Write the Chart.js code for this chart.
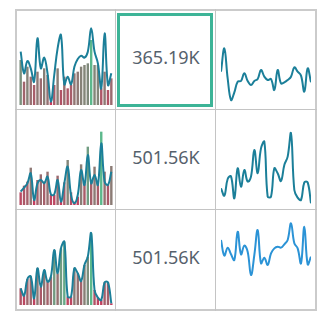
<!DOCTYPE html>
<html>
<head>
<meta charset="utf-8">
<script src="https://cdn.jsdelivr.net/npm/chart.js@4/dist/chart.umd.min.js"></script>
<style>
  html, body { margin: 0; padding: 0; background: #fff; }
  body { width: 328px; height: 324px; position: relative; overflow: hidden; font-family: 'Noto Sans', 'Open Sans', sans-serif; }
  .frame { position: absolute; left: 15px; top: 9px; width: 302px; height: 302px; border: 2px solid #cbcbcb; box-sizing: border-box; }
  .vline { position: absolute; top: 9px; width: 1px; height: 302px; background: #c4c4c4; }
  .hline { position: absolute; left: 15px; height: 1px; width: 302px; background: #c4c4c4; }
  .kpi { position: absolute; left: 116px; width: 100px; height: 24px; line-height: 24px; text-align: center; font-size: 18px; color: #56616c; }
  .focus { position: absolute; left: 117px; top: 13px; width: 96px; height: 94px; border: 3px solid #3db497; box-sizing: border-box; }
  canvas { position: absolute; }
</style>
</head>
<body>
<div class="frame"></div>
<div class="vline" style="left:115px"></div>
<div class="vline" style="left:215px"></div>
<div class="hline" style="top:109px"></div>
<div class="hline" style="top:209px"></div>
<div class="focus"></div>
<div class="kpi" style="top:45px">365.19K</div>
<div class="kpi" style="top:145px">501.56K</div>
<div class="kpi" style="top:245px">501.56K</div>

<canvas id="c11" width="94" height="95" style="left:19px;top:10px"></canvas>
<canvas id="c21" width="94" height="95" style="left:19px;top:110px"></canvas>
<canvas id="c31" width="94" height="95" style="left:19px;top:210px"></canvas>
<canvas id="c13" width="90" height="95" style="left:221px;top:10px"></canvas>
<canvas id="c23" width="90" height="95" style="left:221px;top:110px"></canvas>
<canvas id="c33" width="90" height="95" style="left:221px;top:210px"></canvas>

<script>
// ── Data ──────────────────────────────────────────────────────
const days = Array.from({ length: 28 }, (_, i) => String(i + 1));

const aLine = [160, 95, 132, 110, 70, 200, 110, 142, 95, 10, 90, 170, 210, 62, 85, 62, 115, 138, 148, 142, 160, 230, 160, 125, 50, 215, 60, 95];
const aBars = [135, 70, 115, 85, 60, 100, 80, 110, 90, 10, 60, 110, 45, 85, 50, 60, 95, 100, 115, 120, 125, 195, 120, 120, 50, 100, 45, 80];

const bLine = [40, 52, 65, 95, 15, 65, 75, 65, 85, 32, 32, 75, 10, 65, 115, 30, 5, 30, 105, 60, 150, 65, 90, 60, 185, 70, 60, 100];
const bBars = [38, 58, 70, 112, 15, 75, 92, 70, 100, 30, 30, 88, 10, 68, 135, 38, 10, 25, 122, 65, 175, 70, 115, 65, 220, 100, 60, 117];

const cData = [50, 28, 78, 86, 20, 110, 55, 105, 70, 85, 165, 95, 170, 190, 25, 25, 110, 95, 72, 120, 145, 215, 45, 22, 15, 68, 68, 5];

const dLine = [100, 170, 80, 15, 38, 70, 72, 95, 72, 60, 72, 78, 105, 85, 75, 78, 45, 105, 65, 68, 75, 85, 113, 100, 88, 40, 110, 68];
const eLine = [195, 148, 172, 152, 135, 220, 152, 178, 160, 90, 150, 225, 125, 142, 120, 155, 170, 175, 172, 182, 195, 245, 185, 170, 125, 235, 122, 145];

const Y_MAX = 285;

// ── Colours ───────────────────────────────────────────────────
const TEAL = '#1b7f99';
const BLUE = '#2b93d6';
const RED = [200, 58, 92], GRAY = [140, 122, 117], GREEN = [92, 184, 140];

function mix(c1, c2, t) {
  const c = c1.map((v, k) => Math.round(v + (c2[k] - v) * t));
  return `rgb(${c[0]},${c[1]},${c[2]})`;
}

/** Red → gray → green by value, like the reference bars. */
function barColors(vals) {
  const lo = Math.min(...vals), hi = Math.max(...vals);
  return vals.map(v => {
    const t = (v - lo) / (hi - lo);
    return t < 0.5 ? mix(RED, GRAY, t * 2) : mix(GRAY, GREEN, (t - 0.5) * 2);
  });
}

const baseOpts = () => ({
  animation: false,
  responsive: false,
  devicePixelRatio: 1,
  layout: { padding: 0 },
  plugins: { legend: { display: false }, tooltip: { enabled: false } },
  scales: {
    x: { display: false },
    y: { display: false, min: 0, max: Y_MAX },
  },
});

function lineSet(data, color) {
  return {
    type: 'line', data, borderColor: color, borderWidth: 2,
    pointRadius: 0, tension: 0.4, fill: false, order: 0,
  };
}

function comboChart(id, lineData, barData) {
  new Chart(document.getElementById(id), {
    type: 'bar',
    data: {
      labels: days,
      datasets: [
        lineSet(lineData, TEAL),
        {
          type: 'bar', data: barData, backgroundColor: barColors(barData),
          barPercentage: 0.72, categoryPercentage: 1, order: 1,
        },
      ],
    },
    options: baseOpts(),
  });
}

function sparkLine(id, data, color) {
  const opts = baseOpts();
  opts.scales.x = { display: false, offset: false };
  new Chart(document.getElementById(id), {
    type: 'line',
    data: { labels: days, datasets: [lineSet(data, color)] },
    options: opts,
  });
}

comboChart('c11', aLine, aBars);
comboChart('c21', bLine, bBars);
comboChart('c31', cData, cData);
sparkLine('c13', dLine, TEAL);
sparkLine('c23', cData, TEAL);
sparkLine('c33', eLine, BLUE);
</script>
</body>
</html>
